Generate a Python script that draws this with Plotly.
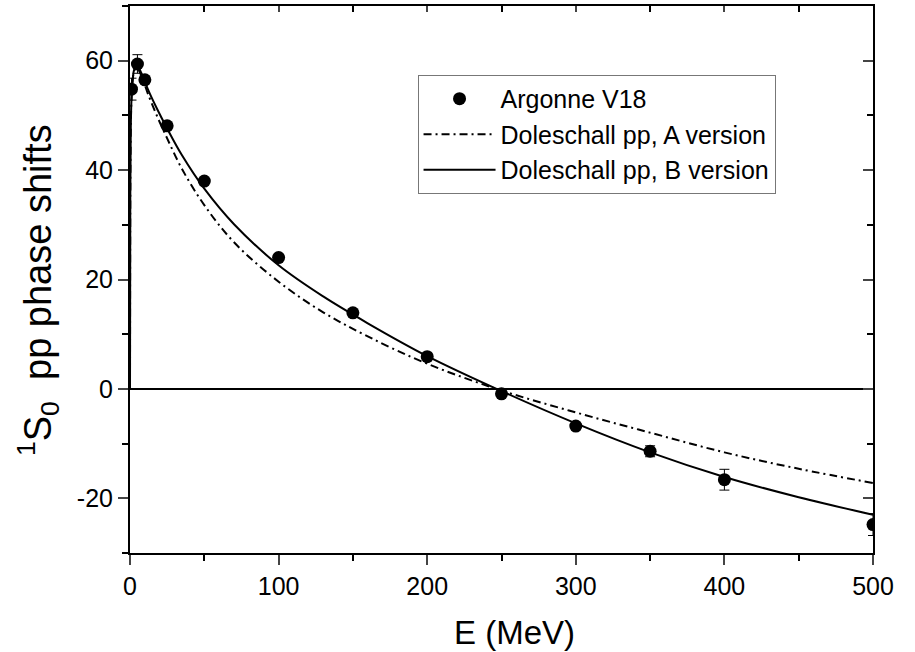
import plotly.graph_objects as go

# Argonne V18 points
E_pts = [1, 5, 10, 25, 50, 100, 150, 200, 250, 300, 350, 400, 500]
d_pts = [54.8, 59.4, 56.5, 48.1, 38.0, 24.0, 13.9, 5.9, -0.9, -6.8, -11.4, -16.6, -24.8]
err_pts = [2.0, 1.7, 0.5, 0.3, 0.3, 0.3, 0.3, 0.3, 0.3, 0.5, 1.0, 1.9, 2.0]

# Doleschall curves
E_curve = [0, 0.2, 0.5, 1, 2, 3, 5, 8, 12, 18, 25, 35, 50, 70, 100, 130, 160, 200, 250, 300, 350, 400, 450, 500]
d_A = [0, 35, 47, 53, 57, 58.3, 58.5, 57.0, 54.0, 50.0, 45.8, 40.2, 33.6, 26.8, 19.6, 14.0, 9.6, 4.6, -0.3, -4.3, -8.0, -11.6, -14.6, -17.2]
d_B = [0, 35, 47, 53, 57, 58.5, 59.0, 57.5, 54.8, 51.3, 47.6, 42.7, 36.6, 30.1, 22.6, 16.9, 12.0, 6.0, -0.4, -6.3, -11.6, -16.1, -19.8, -23.0]

x_ticks = [0, 100, 200, 300, 400, 500]
y_ticks = [-20, 0, 20, 40, 60]
y_tick_text = ["-20", "0", "20", "40", "60"]

FONT = "Liberation Sans, Arial, Helvetica, sans-serif"

fig = go.Figure()
fig.add_trace(go.Scatter(
    x=E_pts, y=d_pts, mode="markers", name="Argonne V18",
    marker=dict(color="black", size=13),
    error_y=dict(type="data", array=err_pts, color="black", thickness=1, width=5),
))
fig.add_trace(go.Scatter(
    x=E_curve, y=d_A, mode="lines", name="Doleschall pp, A version",
    line=dict(color="black", width=2, dash="8px,4px,2px,4px", shape="spline", smoothing=1.0),
))
fig.add_trace(go.Scatter(
    x=E_curve, y=d_B, mode="lines", name="Doleschall pp, B version",
    line=dict(color="black", width=2, shape="spline", smoothing=1.0),
))
# invisible trace for mirrored axes
fig.add_trace(go.Scatter(x=[None], y=[None], xaxis="x2", yaxis="y2", showlegend=False, hoverinfo="skip"))

fig.update_layout(
    width=915, height=652,
    margin=dict(l=130, r=42, t=6, b=99),
    paper_bgcolor="white", plot_bgcolor="white",
    font=dict(family=FONT, color="black", size=25),
    showlegend=True,
    legend=dict(
        x=0.387, y=0.874, xanchor="left", yanchor="top",
        bgcolor="white", bordercolor="#777777", borderwidth=1,
        font=dict(size=25, family=FONT), itemwidth=72, tracegroupgap=0,
    ),
    xaxis=dict(
        range=[0, 500], tickvals=x_ticks, ticks="outside", ticklen=10, tickwidth=2,
        showline=True, linecolor="black", linewidth=2, showgrid=False, zeroline=False,
        minor=dict(dtick=50, ticks="outside", ticklen=6, tickwidth=2, tickcolor="black", showgrid=False),
        tickfont=dict(size=25),
    ),
    yaxis=dict(
        range=[-30, 70], tickvals=y_ticks, ticktext=y_tick_text, ticks="outside", ticklen=10, tickwidth=2,
        showline=True, linecolor="black", linewidth=2, showgrid=False,
        zeroline=True, zerolinecolor="black", zerolinewidth=2,
        minor=dict(dtick=10, ticks="outside", ticklen=6, tickwidth=2, tickcolor="black", showgrid=False),
        tickfont=dict(size=25),
    ),
    xaxis2=dict(
        overlaying="x", side="top", matches="x", range=[0, 500], tickvals=x_ticks,
        ticks="inside", ticklen=6, tickwidth=2, showticklabels=False,
        showline=True, linecolor="black", linewidth=2, showgrid=False, zeroline=False,
        minor=dict(dtick=50, ticks="inside", ticklen=6, tickwidth=2, tickcolor="black", showgrid=False),
    ),
    yaxis2=dict(
        overlaying="y", side="right", matches="y", range=[-30, 70], tickvals=y_ticks,
        ticks="inside", ticklen=10, tickwidth=2, showticklabels=False,
        showline=True, linecolor="black", linewidth=2, showgrid=False, zeroline=False,
        minor=dict(dtick=10, ticks="inside", ticklen=6, tickwidth=2, tickcolor="black", showgrid=False),
    ),
    annotations=[
        dict(text="E (MeV)", xref="paper", yref="paper", x=0.517, y=-0.145,
             xanchor="center", yanchor="middle", showarrow=False, font=dict(size=33)),
        dict(text="<sup>1</sup>S<sub>0</sub>  pp phase shifts", xref="paper", yref="paper",
             x=-0.123, y=0.48, xanchor="center", yanchor="middle", textangle=-90,
             showarrow=False, font=dict(size=38)),
    ],
)

fig.write_html("out.html", config={"displayModeBar": False},
               post_script="document.body.style.margin='0px';")
